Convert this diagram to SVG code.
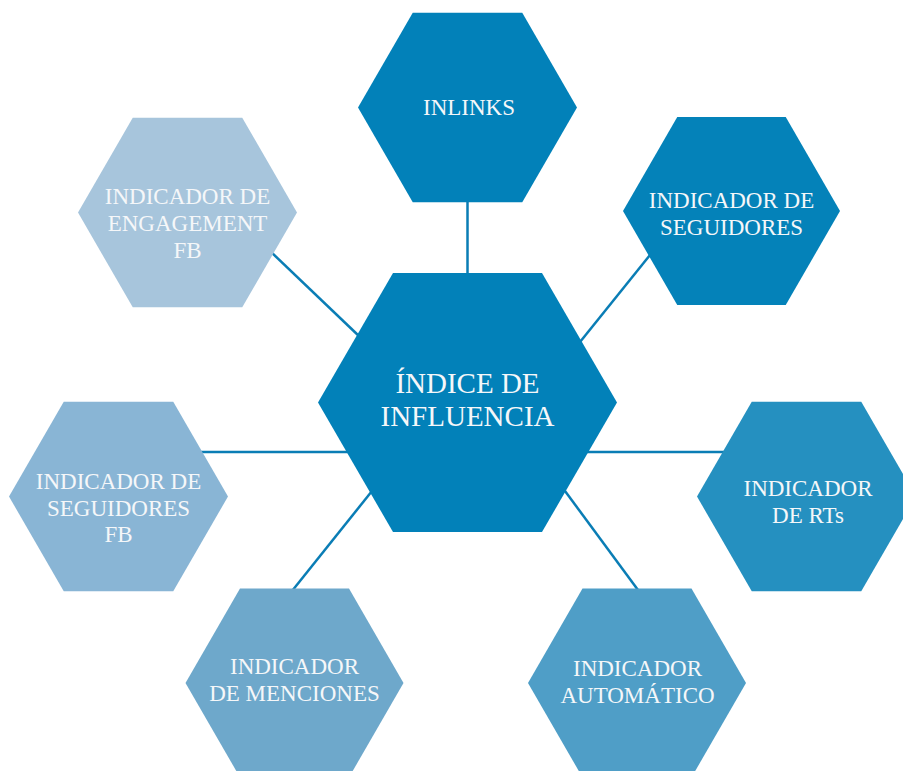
<svg xmlns="http://www.w3.org/2000/svg" width="903" height="771" viewBox="0 0 903 771">
<style>
.c{stroke:#0a7db5;stroke-width:2.5;fill:none}
.t{font-family:"Liberation Serif","Times New Roman",serif;fill:#f5f7f9;text-anchor:middle;font-size:23px}
.big{font-size:29px}
</style>
<rect width="903" height="771" fill="#ffffff"/>
<g id="connectors">
<line class="c" x1="467.5" y1="200" x2="467.5" y2="276"/>
<line class="c" x1="270" y1="251" x2="360" y2="337"/>
<line class="c" x1="650" y1="255" x2="580" y2="342"/>
<line class="c" x1="200" y1="452" x2="350" y2="452"/>
<line class="c" x1="585" y1="452" x2="725" y2="452"/>
<line class="c" x1="292" y1="591" x2="372" y2="491"/>
<line class="c" x1="638" y1="590" x2="565" y2="491"/>
</g>
<g id="indice">
<polygon points="318,402.5 393,273 542,273 617,402.5 542,532 393,532" fill="#0281b9"/>
<text class="t big" x="467.5" y="393">ÍNDICE DE</text>
<text class="t big" x="467.5" y="426">INFLUENCIA</text>
</g>
<g id="inlinks">
<polygon points="358,107.5 412.75,12.7 522.25,12.7 577,107.5 522.25,202.3 412.75,202.3" fill="#0281b9"/>
<text class="t" x="469" y="115">INLINKS</text>
</g>
<g id="seguidores">
<polygon points="623,211 677.25,117 785.75,117 840,211 785.75,305 677.25,305" fill="#0482b9"/>
<text class="t" x="731.5" y="208">INDICADOR DE</text>
<text class="t" x="731.5" y="235">SEGUIDORES</text>
</g>
<g id="engagement">
<polygon points="78,212.5 132.75,117.7 242.25,117.7 297,212.5 242.25,307.3 132.75,307.3" fill="#a7c5dc"/>
<text class="t" x="187.5" y="204">INDICADOR DE</text>
<text class="t" x="187.5" y="231">ENGAGEMENT</text>
<text class="t" x="187.5" y="258">FB</text>
</g>
<g id="seguidores-fb">
<polygon points="9,496.5 63.75,401.7 173.25,401.7 228,496.5 173.25,591.3 63.75,591.3" fill="#89b5d5"/>
<text class="t" x="118.5" y="489">INDICADOR DE</text>
<text class="t" x="118.5" y="516">SEGUIDORES</text>
<text class="t" x="118.5" y="542">FB</text>
</g>
<g id="rts">
<polygon points="697,496.5 751.75,401.7 861.25,401.7 916,496.5 861.25,591.3 751.75,591.3" fill="#2590c0"/>
<text class="t" x="808" y="496">INDICADOR</text>
<text class="t" x="808" y="523">DE RTs</text>
</g>
<g id="menciones">
<polygon points="185.5,683 240,588.6 349,588.6 403.5,683 349,777.4 240,777.4" fill="#6ea8cb"/>
<text class="t" x="294.5" y="674">INDICADOR</text>
<text class="t" x="294.5" y="701">DE MENCIONES</text>
</g>
<g id="automatico">
<polygon points="528,683 582.5,588.6 691.5,588.6 746,683 691.5,777.4 582.5,777.4" fill="#4f9ec7"/>
<text class="t" x="637.5" y="676">INDICADOR</text>
<text class="t" x="637.5" y="703">AUTOMÁTICO</text>
</g>
</svg>
